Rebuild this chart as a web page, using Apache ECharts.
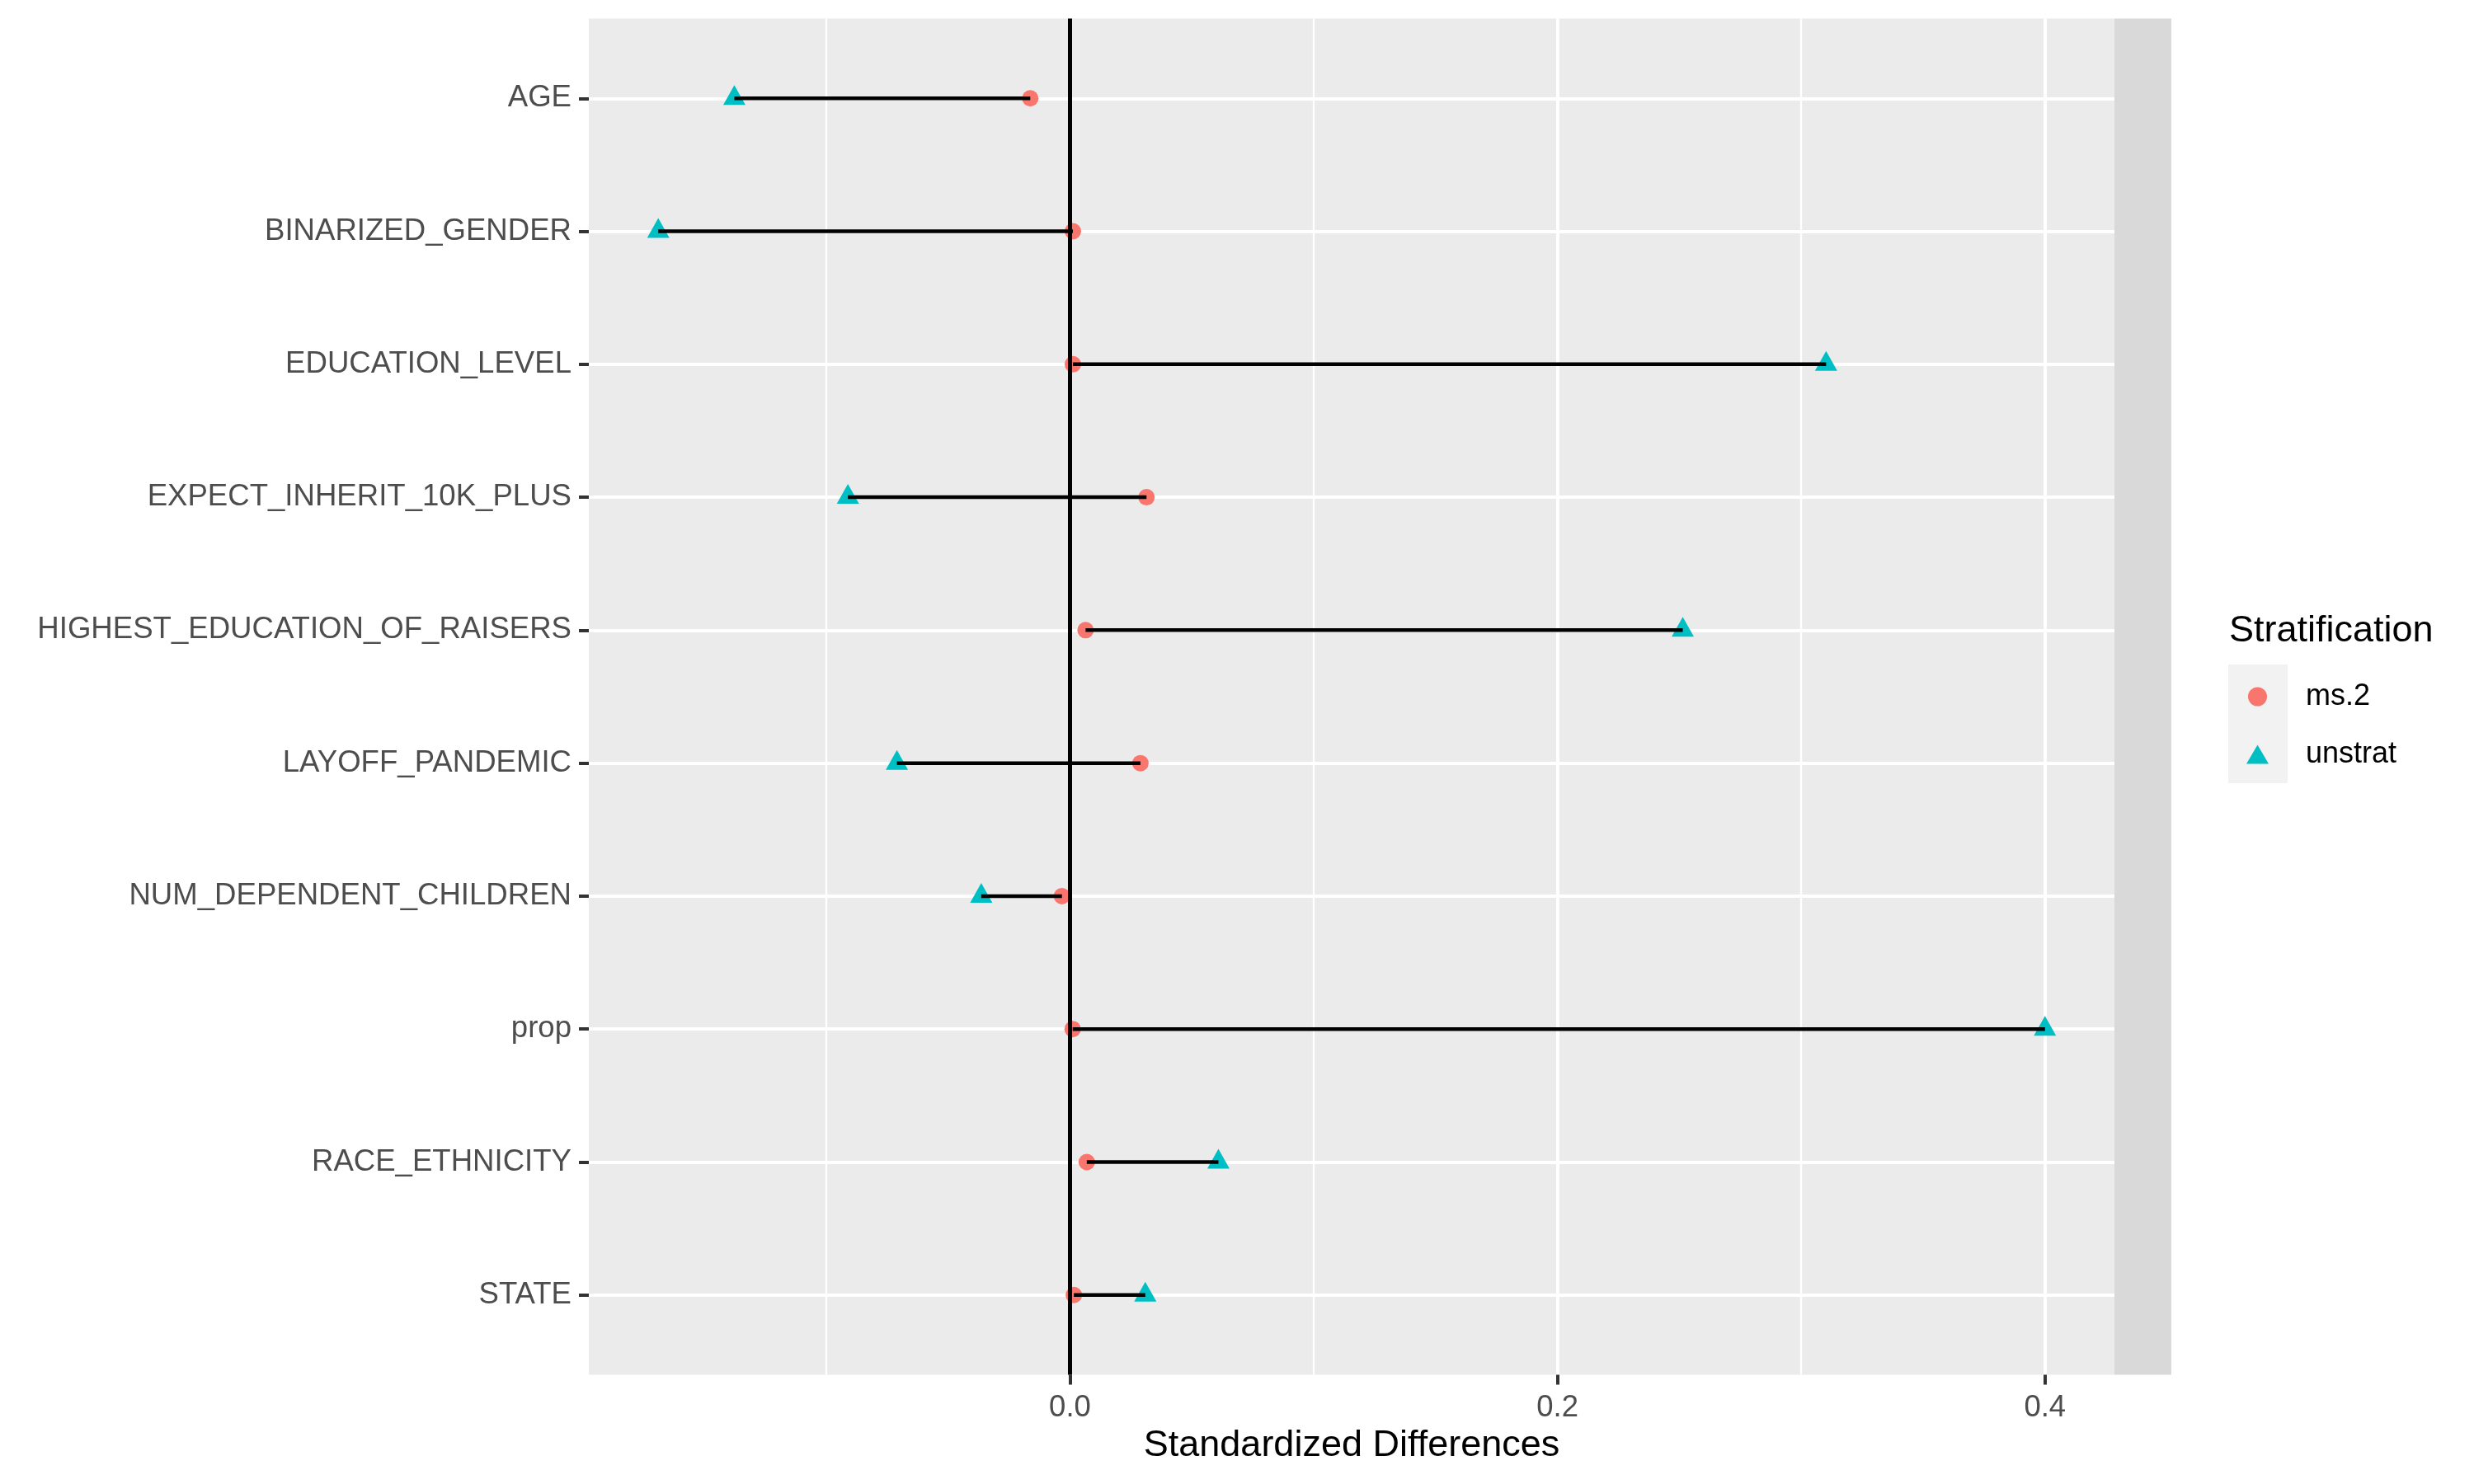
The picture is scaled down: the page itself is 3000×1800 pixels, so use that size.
<!DOCTYPE html>
<html>
<head>
<meta charset="utf-8">
<script src="https://cdn.jsdelivr.net/npm/echarts@6/dist/echarts.min.js"></script>
<style>
  html, body { margin: 0; padding: 0; background: #fff; }
  #chart { width: 3000px; height: 1800px; }
</style>
</head>
<body>
<div id="chart"></div>
<script>
// covariates, top to bottom
var categories = ['AGE', 'BINARIZED_GENDER', 'EDUCATION_LEVEL', 'EXPECT_INHERIT_10K_PLUS',
    'HIGHEST_EDUCATION_OF_RAISERS', 'LAYOFF_PANDEMIC', 'NUM_DEPENDENT_CHILDREN',
    'prop', 'RACE_ETHNICITY', 'STATE'];
// standardized differences
var ms2 = [-0.0163, 0.0012, 0.0012, 0.0314, 0.0064, 0.0289, -0.0033, 0.0011, 0.0069, 0.0016];
var unstrat = [-0.1377, -0.1689, 0.3102, -0.0911, 0.2514, -0.0710, -0.0364, 0.4000, 0.0609, 0.0309];
var xTicks = [0, 0.2, 0.4];
var xMinor = [-0.1, 0.1, 0.3];
var rowIdx = categories.map(function (c, i) { return i; });

var chart = echarts.init(document.getElementById('chart'));
var font = 'Liberation Sans, Arial, Helvetica, sans-serif';

var option = {
    backgroundColor: '#ffffff',
    animation: false,
    textStyle: { fontFamily: font },
    title: {
        text: 'Stratification',
        left: 2703,
        top: 743,
        padding: 0,
        textStyle: { fontSize: 45, fontWeight: 'normal', color: '#000', fontFamily: font }
    },
    legend: {
        orient: 'vertical',
        left: 2724,
        top: 827,
        padding: 0,
        itemGap: 34,
        itemWidth: 27,
        itemHeight: 23,
        textStyle: { fontSize: 36, color: '#000', fontFamily: font, padding: [0, 0, 0, 40] },
        data: [
            { name: 'ms.2', icon: 'circle' },
            { name: 'unstrat', icon: 'triangle' }
        ]
    },
    graphic: [
        { type: 'rect', left: 2564, top: 22.5, shape: { width: 69, height: 1645 }, style: { fill: '#D9D9D9' }, z: -1 },
        { type: 'rect', left: 2702, top: 806, shape: { width: 72, height: 72 }, style: { fill: '#F2F2F2' }, z: -1 },
        { type: 'rect', left: 2702, top: 878, shape: { width: 72, height: 72 }, style: { fill: '#F2F2F2' }, z: -1 }
    ],
    grid: {
        left: 714, right: 436, top: 22.5, bottom: 132.5,
        show: true, backgroundColor: '#EBEBEB', borderWidth: 0
    },
    xAxis: [{
        type: 'value',
        min: -0.1974,
        max: 0.4285,
        axisLine: { show: false, onZero: false },
        axisTick: { show: true, customValues: xTicks, length: 12, lineStyle: { color: '#333333', width: 4 } },
        axisLabel: {
            customValues: xTicks, fontSize: 36.5, color: '#4D4D4D', margin: 22, fontFamily: font,
            formatter: function (v) { return v.toFixed(1); }
        },
        splitLine: { show: true, lineStyle: { color: '#ffffff', width: 4 } },
        name: 'Standardized Differences',
        nameLocation: 'middle',
        nameGap: 61,
        nameTextStyle: { fontSize: 45, color: '#000', fontFamily: font }
    }, {
        type: 'value',
        position: 'bottom',
        min: -0.1974,
        max: 0.4285,
        axisLine: { show: false, onZero: false },
        axisTick: { show: false, customValues: xMinor },
        axisLabel: { show: false, customValues: xMinor },
        splitLine: { show: true, lineStyle: { color: '#ffffff', width: 2.3 } }
    }],
    yAxis: {
        type: 'value',
        inverse: true,
        min: -0.6,
        max: 9.6,
        axisLine: { show: false, onZero: false },
        axisTick: { show: true, customValues: rowIdx, length: 12, lineStyle: { color: '#333333', width: 4 } },
        axisLabel: {
            customValues: rowIdx, fontSize: 36.6, color: '#4D4D4D', margin: 21, fontFamily: font,
            formatter: function (v) { return categories[Math.round(v)]; }
        },
        splitLine: { show: true, lineStyle: { color: '#ffffff', width: 4 } }
    },
    series: [{
        name: 'ms.2',
        type: 'scatter',
        symbol: 'circle',
        symbolSize: 20,
        itemStyle: { color: '#F8766D', opacity: 1 },
        z: 2,
        data: ms2.map(function (v, i) { return [v, i]; })
    }, {
        name: 'unstrat',
        type: 'scatter',
        symbol: 'triangle',
        symbolSize: [27, 24],
        symbolOffset: [0, -4],
        itemStyle: { color: '#00BFC4', opacity: 1 },
        z: 2,
        data: unstrat.map(function (v, i) { return [v, i]; })
    }, {
        name: 'segments',
        type: 'custom',
        z: 3,
        silent: true,
        encode: { x: [0, 1], y: 2 },
        data: categories.map(function (c, i) { return [ms2[i], unstrat[i], i]; }),
        renderItem: function (params, api) {
            var a = api.coord([api.value(0), api.value(2)]);
            var b = api.coord([api.value(1), api.value(2)]);
            return {
                type: 'line',
                shape: { x1: a[0], y1: a[1], x2: b[0], y2: b[1] },
                style: { stroke: '#000', lineWidth: 4.5 }
            };
        },
        markLine: {
            silent: true,
            symbol: 'none',
            label: { show: false },
            lineStyle: { color: '#000', width: 5, type: 'solid' },
            data: [{ xAxis: 0 }]
        }
    }]
};

chart.setOption(option);
</script>
</body>
</html>
